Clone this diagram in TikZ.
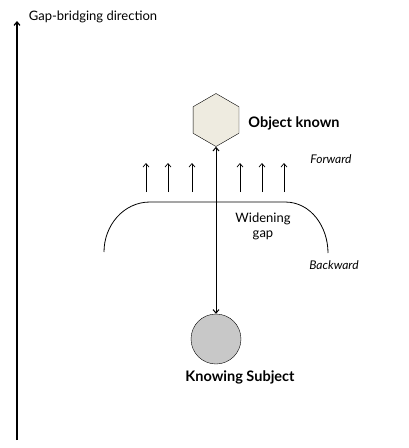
\documentclass[tikz,border=0pt]{standalone}
\usepackage{fontspec}
\setmainfont{Lato}
\usetikzlibrary{shapes.geometric,arrows.meta}

\begin{document}
\begin{tikzpicture}[x=1pt,y=-1pt,
    barb/.style={-{Straight Barb[length=3.5pt,width=6pt]}}]

        \useasboundingbox (0,0) rectangle (409,448);

        \begin{scope}[every node/.style={draw, inner sep=0pt}]
          \node (known)   at (216,120) [regular polygon, regular polygon sides=6,
                                        shape border rotate=30, minimum size=53pt,
                                        fill={rgb,255:red,238;green,235;blue,224}] {};
          \node (subject) at (216,339) [circle, minimum size=50pt,
                                        fill={rgb,255:red,200;green,200;blue,200}] {};
        \end{scope}

        \begin{scope}[every node/.style={font=\fontsize{13}{15}\selectfont}]
          \node (axislabel) at (93,17)   {Gap-bridging direction};
          \node (knownlbl)  at (294,123) {\bfseries\fontsize{14.5}{16}\selectfont Object known};
          \node (subjlbl)   at (240,377) {\bfseries\fontsize{14.5}{16}\selectfont Knowing Subject};
          \node (fwd)       at (331,159) {\itshape\fontsize{12}{14}\selectfont Forward};
          \node (bwd)       at (334,265) {\itshape\fontsize{12}{14}\selectfont Backward};
          \node (gap)       at (263,226) [align=center, inner sep=0pt] {Widening\\gap};
        \end{scope}

        \coordinate (axisbot) at (17,440);
        \coordinate (axistop) at (17,21);
        \coordinate (gapleft)  at (104,252);
        \coordinate (gapright) at (328,253);

        \draw[line width=1.2pt, barb] (axisbot) -- (axistop);
        \draw[line width=1pt, {Straight Barb[length=3.5pt,width=6pt]}-{Straight Barb[length=3.5pt,width=6pt]}]
          (known.south) -- (subject.north);

        \draw[line width=0.8pt] (gapleft) to[out=90,in=180] (150,202)
          -- (285,202) to[out=0,in=90] (gapright);

        \foreach \x in {146,168,192,240,262,284}
          \draw[line width=0.7pt, barb] (\x,192) -- (\x,163);

\end{tikzpicture}
\end{document}
